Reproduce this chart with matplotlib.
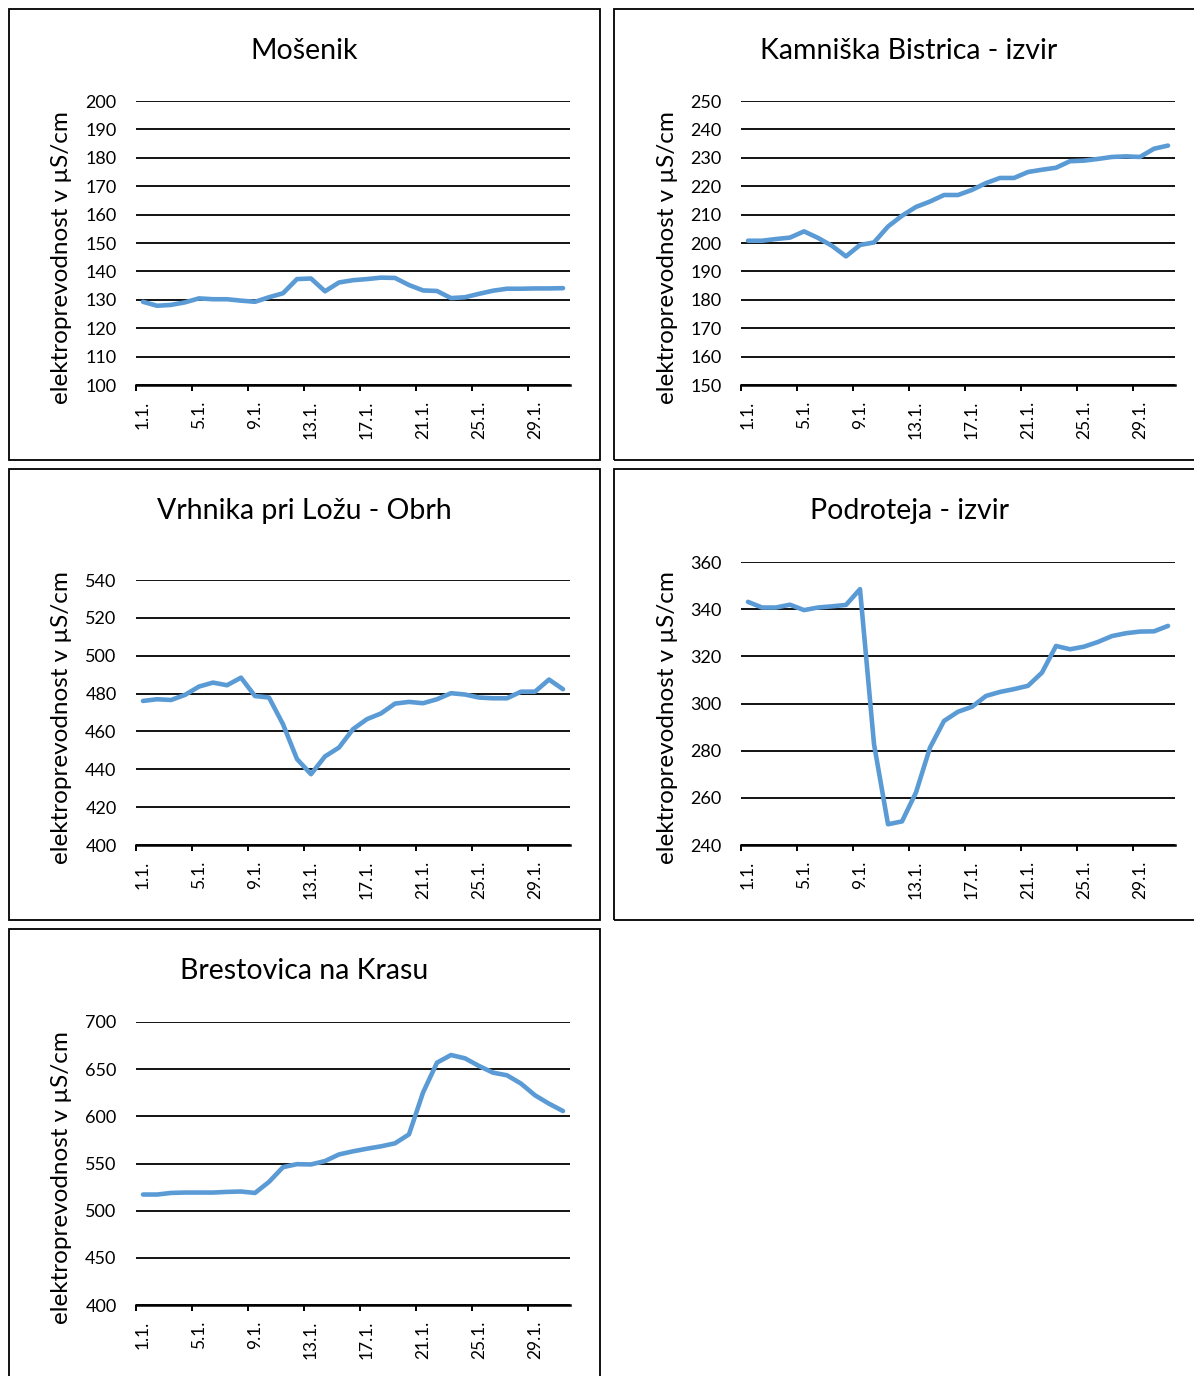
import numpy as np
import matplotlib.pyplot as plt
from matplotlib.patches import Rectangle

plt.rcParams['font.family'] = ['Lato', 'DejaVu Sans']

# data: conductivity per day (1.1. - 31.1.)
days = list(range(1, 32))
day_labels = ['1.1.', '5.1.', '9.1.', '13.1.', '17.1.', '21.1.', '25.1.', '29.1.']

mosenik = [129.3, 127.9, 128.2, 129.1, 130.5, 130.2, 130.2, 129.7, 129.3, 130.9,
           132.3, 137.3, 137.5, 133.0, 136.1, 136.9, 137.3, 137.8, 137.7, 135.2,
           133.3, 133.1, 130.6, 130.9, 132.1, 133.2, 133.9, 133.9, 134.0, 134.0, 134.1]
kamniska = [200.8, 200.8, 201.4, 201.9, 204.1, 201.8, 199.0, 195.3, 199.3, 200.2,
            205.8, 209.6, 212.7, 214.6, 216.9, 216.9, 218.7, 221.1, 222.9, 222.9,
            225.0, 225.8, 226.5, 228.8, 229.0, 229.6, 230.3, 230.5, 230.3, 233.2, 234.3]
vrhnika = [476.1, 477.0, 476.6, 479.3, 483.7, 485.8, 484.4, 488.4, 478.7, 477.9,
           463.8, 445.4, 437.4, 446.8, 451.5, 461.2, 466.5, 469.5, 474.7, 475.6,
           474.9, 477.0, 480.2, 479.5, 477.9, 477.5, 477.5, 481.0, 481.0, 487.4, 482.3]
podroteja = [343.1, 340.7, 340.7, 341.9, 339.6, 340.7, 341.2, 341.8, 348.5, 282.8,
             248.8, 250.0, 262.3, 281.3, 292.6, 296.5, 298.6, 303.2, 304.9, 306.1,
             307.5, 313.1, 324.4, 323.0, 324.1, 326.1, 328.6, 329.8, 330.5, 330.6, 332.9]
brestovica = [517.1, 517.1, 518.8, 519.2, 519.2, 519.2, 519.9, 520.3, 518.8, 530.5,
              546.1, 549.3, 549.0, 552.6, 559.6, 562.9, 565.7, 568.2, 571.4, 580.9,
              625.1, 656.9, 665.0, 661.5, 653.4, 646.3, 643.5, 634.7, 622.3, 613.4, 605.6]

W, H = 1194, 1376
fig = plt.figure(figsize=(W / 100, H / 100), dpi=100)

def frac(x0, y0, x1, y1):
    return [x0 / W, 1 - y1 / H, (x1 - x0) / W, (y1 - y0) / H]

# panel boxes (px): left, top, right, bottom
panels = [(9, 9, 600, 460), (614, 9, 1204, 460), (9, 469, 600, 920),
          (614, 469, 1204, 920), (9, 929, 600, 1389)]
# plot areas (px)
areas = [(136, 101, 570, 385), (741, 101, 1175, 385), (136, 580, 570, 845),
         (741, 562, 1175, 845), (136, 1022, 570, 1305)]
titles = ['Mošenik', 'Kamniška Bistrica - izvir', 'Vrhnika pri Ložu - Obrh',
          'Podroteja - izvir', 'Brestovica na Krasu']
series = [mosenik, kamniska, vrhnika, podroteja, brestovica]
ylims = [(100, 200, 10), (150, 250, 10), (400, 540, 20), (240, 360, 20), (400, 700, 50)]

for p in panels:
    x0, y0, x1, y1 = p
    fig.patches.append(Rectangle((x0 / W, 1 - y1 / H), (x1 - x0) / W, (y1 - y0) / H,
                                 transform=fig.transFigure, fill=False,
                                 edgecolor='black', linewidth=1.3))

for p, a, t, vals, yl in zip(panels, areas, titles, series, ylims):
    ax = fig.add_axes(frac(*a))
    ax.plot(days, vals, color='#5B9BD5', linewidth=3.3, solid_capstyle='round')
    ax.set_xlim(0.5, 31.5)
    ax.set_ylim(yl[0], yl[1])
    ax.set_yticks(np.arange(yl[0], yl[1] + 1, yl[2]))
    ax.yaxis.grid(True, color='black', linewidth=1.3)
    ax.set_axisbelow(True)
    for s in ['left', 'right', 'top']:
        ax.spines[s].set_visible(False)
    ax.spines['bottom'].set_linewidth(1.8)
    ax.tick_params(axis='y', length=0, pad=14, labelsize=13)
    # tick marks between categories, labels at category centres
    ax.set_xticks(np.arange(0.5, 31.5, 4))
    ax.set_xticklabels([])
    ax.tick_params(axis='x', which='major', direction='out', length=4, width=1.4)
    ax.set_xticks([1, 5, 9, 13, 17, 21, 25, 29], minor=True)
    ax.set_xticklabels(day_labels, minor=True, rotation=90, va='top', ha='center',
                       fontsize=12.5)
    ax.tick_params(axis='x', which='minor', length=0, pad=11)
    cx = (p[0] + p[2]) / 2
    fig.text(cx / W, 1 - (p[1] + 42) / H, t, ha='center', va='center', fontsize=20.5)
    fig.text((p[0] + 53) / W, 1 - (p[1] + 249) / H, 'elektroprevodnost v µS/cm',
             rotation=90, ha='center', va='center', fontsize=17.5)

fig.savefig('out.png', dpi=100)
